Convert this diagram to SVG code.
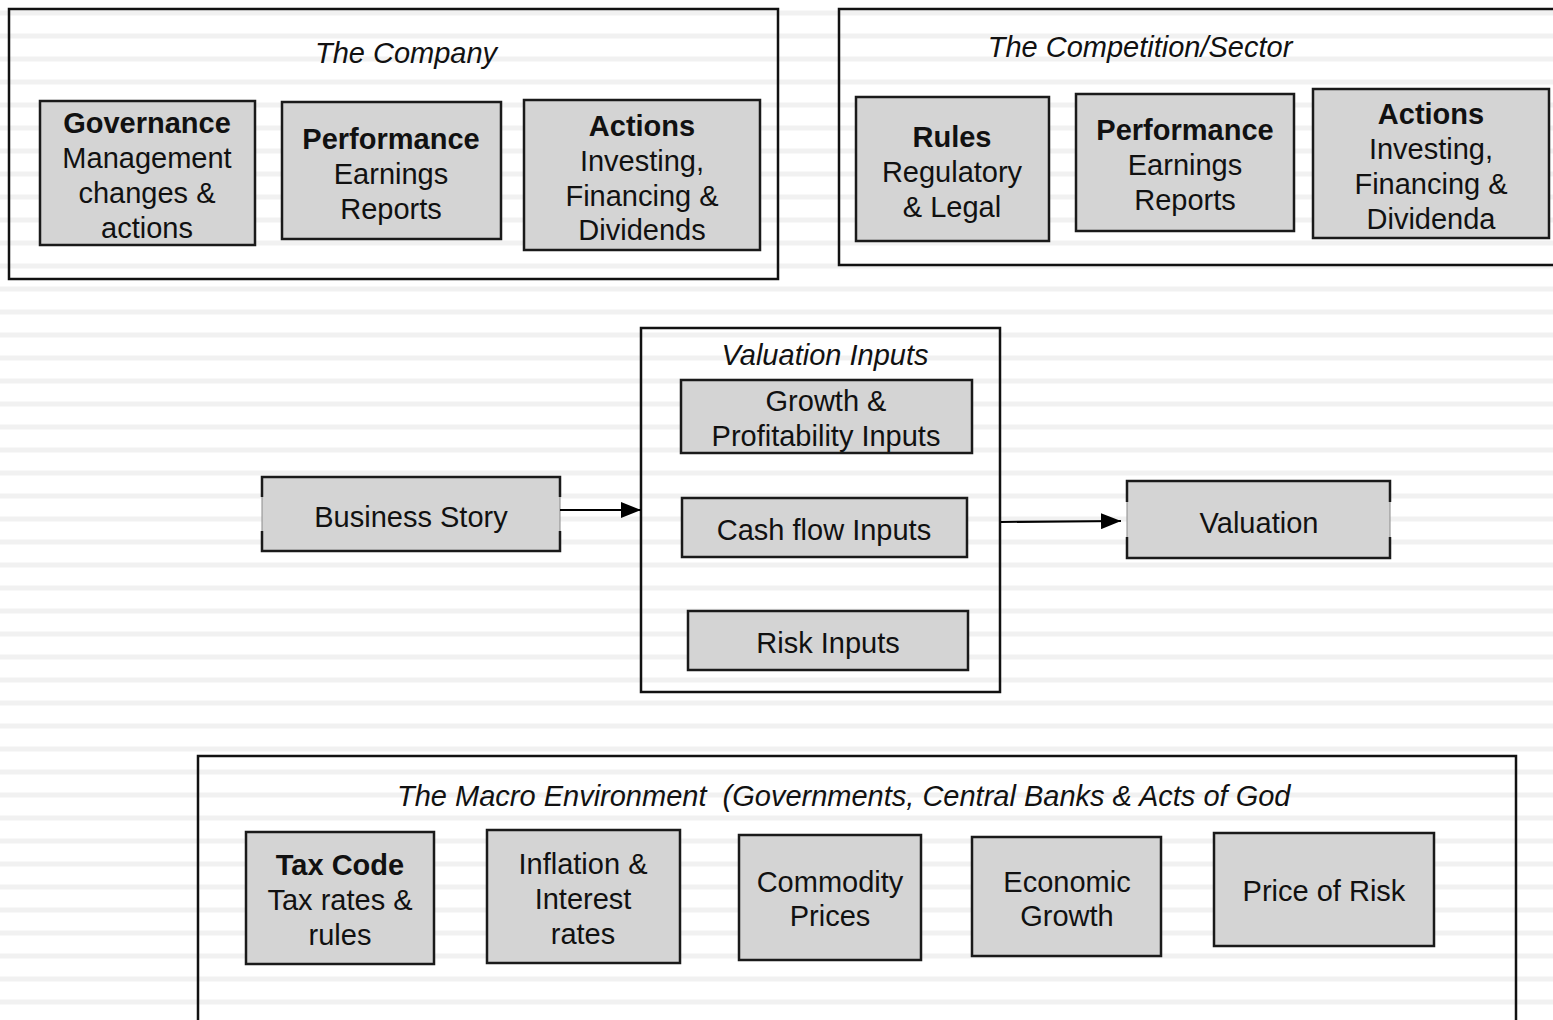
<svg xmlns="http://www.w3.org/2000/svg" width="1553" height="1020" viewBox="0 0 1553 1020">
  <defs>
    <pattern id="stripes" patternUnits="userSpaceOnUse" x="0" y="0" width="1553" height="23">
      <rect x="0" y="0" width="1553" height="23" fill="#ffffff"/>
      <rect x="0" y="10" width="1553" height="6" fill="#f8f8f8"/>
      <rect x="0" y="11" width="1553" height="4" fill="#f1f1f1"/>
    </pattern>
    <marker id="arrow" markerUnits="userSpaceOnUse" markerWidth="20" markerHeight="16" refX="20" refY="8" orient="auto">
      <path d="M0,0 L20,8 L0,16 Z" fill="#000"/>
    </marker>
  </defs>
  <style>
    .outer { fill: none; stroke: #111; stroke-width: 2.5; }
    .box { fill: #d4d4d4; stroke: #1a1a1a; stroke-width: 2.5; }
    .boxfill { fill: #d4d4d4; stroke: none; }
    .edge { stroke: #1a1a1a; stroke-width: 2.5; fill: none; }
    .thin { stroke: #8a8a8a; stroke-width: 1; fill: none; }
    text { font-family: "Liberation Sans", Arial, Helvetica, sans-serif; font-size: 29px; fill: #111; text-anchor: middle; }
    .b { font-weight: bold; }
    .t { font-style: italic; }
    .conn { stroke: #000; stroke-width: 2; fill: none; }
  </style>

  <rect x="0" y="0" width="1553" height="1020" fill="url(#stripes)"/>

  <!-- The Company -->
  <g id="company">
    <rect class="outer" x="9" y="9" width="769" height="270"/>
    <text class="t" x="406" y="63">The Company</text>
  </g>
  <g id="governance">
    <rect class="box" x="40" y="101" width="215" height="144"/>
    <text x="147" y="133" class="b">Governance</text>
    <text x="147" y="168">Management</text>
    <text x="147" y="203">changes &amp;</text>
    <text x="147" y="238">actions</text>
  </g>
  <g id="performance">
    <rect class="box" x="282" y="102" width="219" height="137"/>
    <text x="391" y="149" class="b">Performance</text>
    <text x="391" y="184">Earnings</text>
    <text x="391" y="219">Reports</text>
  </g>
  <g id="actions">
    <rect class="box" x="524" y="100" width="236" height="150"/>
    <text x="642" y="136" class="b">Actions</text>
    <text x="642" y="171">Investing,</text>
    <text x="642" y="206">Financing &amp;</text>
    <text x="642" y="240">Dividends</text>
  </g>

  <!-- The Competition/Sector -->
  <g id="competition">
    <rect class="outer" x="839" y="9" width="730" height="256"/>
    <text class="t" x="1140" y="57">The Competition/Sector</text>
  </g>
  <g id="rules">
    <rect class="box" x="856" y="97" width="193" height="144"/>
    <text x="952" y="147" class="b">Rules</text>
    <text x="952" y="182">Regulatory</text>
    <text x="952" y="217">&amp; Legal</text>
  </g>
  <g id="performance2">
    <rect class="box" x="1076" y="94" width="218" height="137"/>
    <text x="1185" y="140" class="b">Performance</text>
    <text x="1185" y="175">Earnings</text>
    <text x="1185" y="210">Reports</text>
  </g>
  <g id="actions2">
    <rect class="box" x="1313" y="89" width="236" height="149"/>
    <text x="1431" y="124" class="b">Actions</text>
    <text x="1431" y="159">Investing,</text>
    <text x="1431" y="194">Financing &amp;</text>
    <text x="1431" y="229">Dividenda</text>
  </g>

  <!-- Valuation Inputs -->
  <g id="valuation-inputs">
    <rect class="outer" x="641" y="328" width="359" height="364"/>
    <text class="t" x="825" y="365">Valuation Inputs</text>
  </g>
  <g id="growth">
    <rect class="box" x="681" y="380" width="291" height="73"/>
    <text x="826" y="411">Growth &amp;</text>
    <text x="826" y="446">Profitability Inputs</text>
  </g>
  <g id="cashflow">
    <rect class="box" x="682" y="498" width="285" height="59"/>
    <text x="824" y="540">Cash flow Inputs</text>
  </g>
  <g id="risk">
    <rect class="box" x="688" y="611" width="280" height="59"/>
    <text x="828" y="653">Risk Inputs</text>
  </g>

  <!-- Business Story -->
  <g id="business-story">
    <rect class="boxfill" x="262" y="477" width="298" height="74"/>
    <path class="edge" d="M262,497 V477 H560 V497 M560,531 V551 H262 V531"/>
    <path class="thin" d="M262,497 V531 M560,497 V531"/>
    <text x="411" y="527">Business Story</text>
  </g>

  <!-- Valuation -->
  <g id="valuation">
    <rect class="boxfill" x="1127" y="481" width="263" height="77"/>
    <path class="edge" d="M1127,502 V481 H1390 V502 M1390,537 V558 H1127 V537"/>
    <path class="thin" d="M1127,502 V537 M1390,502 V537"/>
    <text x="1259" y="533">Valuation</text>
  </g>

  <!-- Macro -->
  <g id="macro">
    <rect class="outer" x="198" y="756" width="1318" height="290"/>
    <text class="t" x="397" y="806" style="text-anchor:start" xml:space="preserve">The Macro Environment  (Governments, Central Banks &amp; Acts of God</text>
  </g>
  <g id="taxcode">
    <rect class="box" x="246" y="832" width="188" height="132"/>
    <text x="340" y="875" class="b">Tax Code</text>
    <text x="340" y="910">Tax rates &amp;</text>
    <text x="340" y="945">rules</text>
  </g>
  <g id="inflation">
    <rect class="box" x="487" y="830" width="193" height="133"/>
    <text x="583" y="874">Inflation &amp;</text>
    <text x="583" y="909">Interest</text>
    <text x="583" y="944">rates</text>
  </g>
  <g id="commodity">
    <rect class="box" x="739" y="835" width="182" height="125"/>
    <text x="830" y="892">Commodity</text>
    <text x="830" y="926">Prices</text>
  </g>
  <g id="economic">
    <rect class="box" x="972" y="837" width="189" height="119"/>
    <text x="1067" y="892">Economic</text>
    <text x="1067" y="926">Growth</text>
  </g>
  <g id="price-of-risk">
    <rect class="box" x="1214" y="833" width="220" height="113"/>
    <text x="1324" y="901">Price of Risk</text>
  </g>

  <!-- Connectors -->
  <g id="connectors">
    <line class="conn" x1="560" y1="510" x2="641" y2="510" marker-end="url(#arrow)"/>
    <line class="conn" x1="1001" y1="522" x2="1121" y2="521" marker-end="url(#arrow)"/>
  </g>
</svg>
